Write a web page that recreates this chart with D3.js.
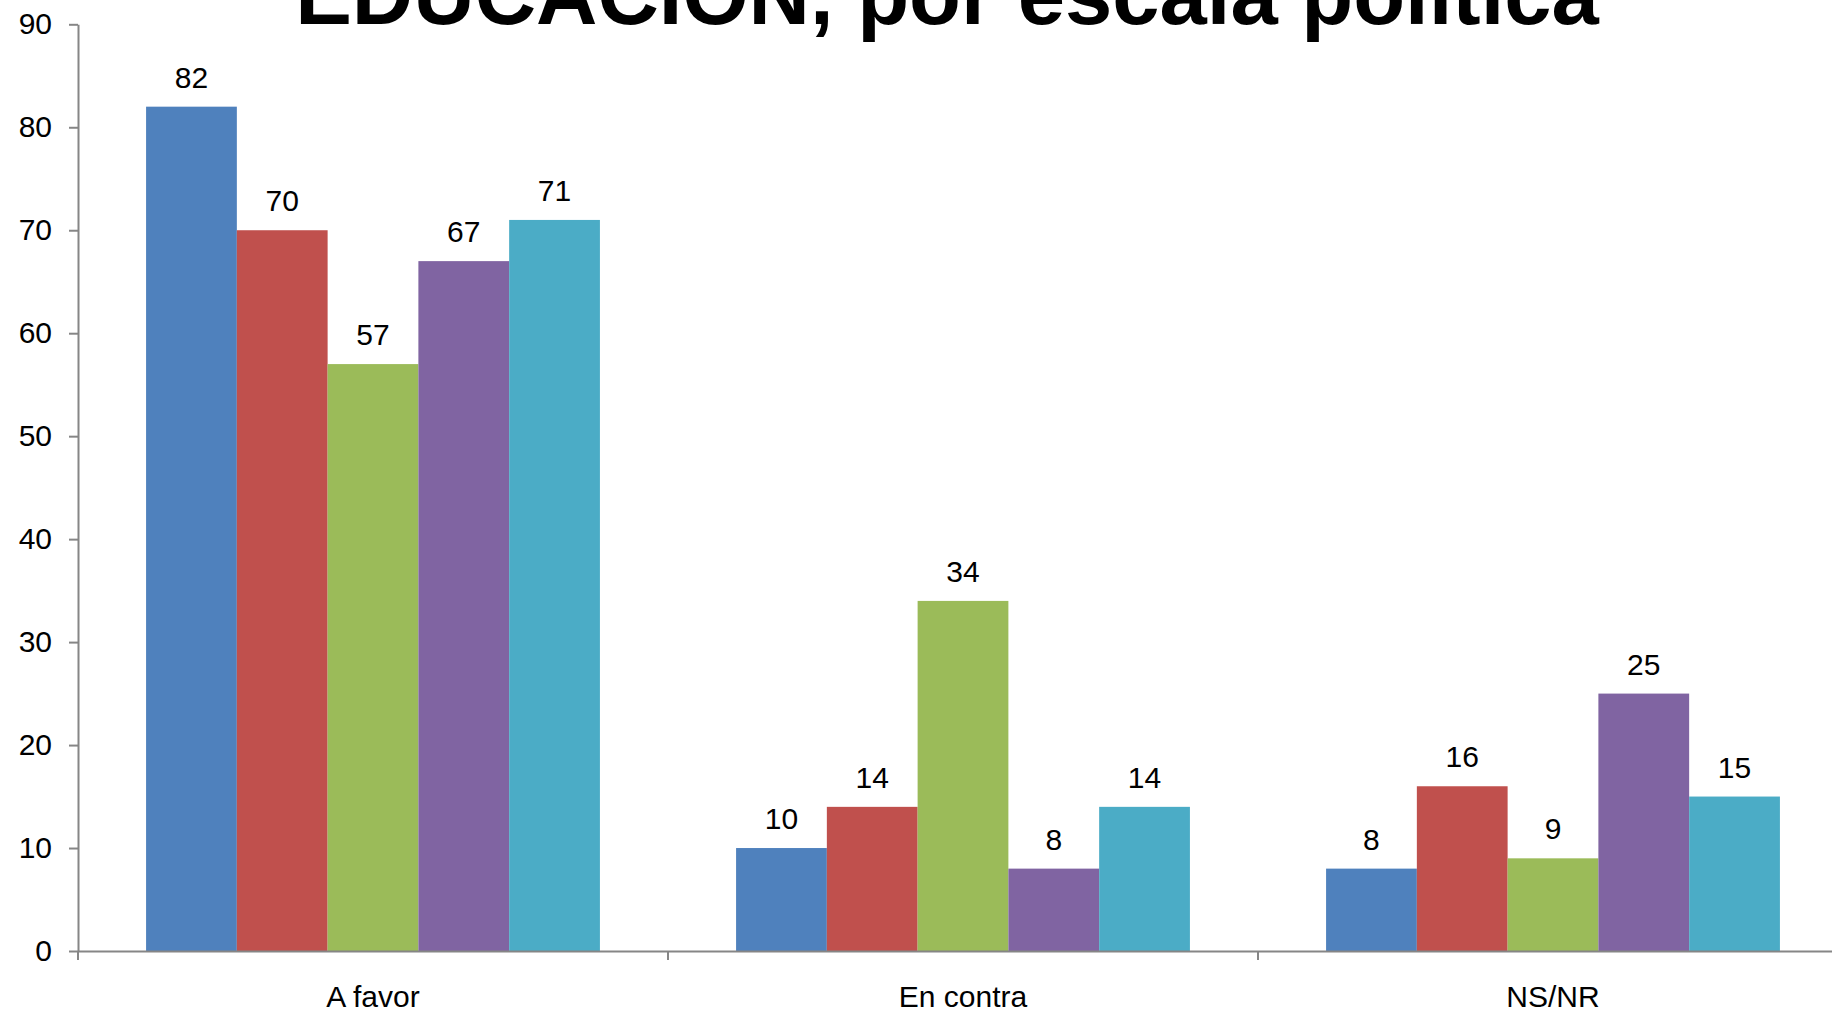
<!DOCTYPE html>
<html>
<head>
<meta charset="utf-8">
<script src="https://cdn.jsdelivr.net/npm/d3@7"></script>
<style>
  html, body { margin: 0; padding: 0; background: #fff; overflow: hidden; }
  svg { display: block; font-family: "Liberation Sans", Arial, sans-serif; }
</style>
</head>
<body>
<svg id="chart" width="1832" height="1013"></svg>
<script>
const titleText = "EDUCACIÓN, por escala política";
const categories = ["A favor", "En contra", "NS/NR"];
const seriesNames = ["Serie 1", "Serie 2", "Serie 3", "Serie 4", "Serie 5"];
const serie1 = [82, 10, 8];
const serie2 = [70, 14, 16];
const serie3 = [57, 34, 9];
const serie4 = [67, 8, 25];
const serie5 = [71, 14, 15];
const seriesValues = [serie1, serie2, serie3, serie4, serie5];
const seriesColors = ["#4F81BD", "#C0504D", "#9BBB59", "#8064A2", "#4BACC6"];
const yTicks = [0, 10, 20, 30, 40, 50, 60, 70, 80, 90];

const svg = d3.select("#chart");
const plotLeft = 78, plotRight = 1848, plotTop = 24.3, plotBottom = 951;

const x0 = d3.scaleBand().domain(categories).range([plotLeft, plotRight]).paddingInner(0).paddingOuter(0);
const barW = x0.bandwidth() / 6.5;
const x1 = d3.scaleBand().domain(seriesNames)
  .range([0.75 * barW, x0.bandwidth() - 0.75 * barW]).padding(0);
const y = d3.scaleLinear().domain([0, 90]).range([plotBottom, plotTop]);

const axisColor = "#868686";
const fontSize = 30;

// bars
const groups = svg.append("g").selectAll("g")
  .data(categories).join("g")
  .attr("transform", d => `translate(${x0(d)},0)`);

groups.selectAll("rect")
  .data((c, ci) => seriesNames.map((s, si) => ({ s, si, v: seriesValues[si][ci] })))
  .join("rect")
  .attr("x", d => x1(d.s))
  .attr("y", d => y(d.v))
  .attr("width", x1.bandwidth())
  .attr("height", d => y(0) - y(d.v))
  .attr("fill", d => seriesColors[d.si]);

groups.selectAll("text")
  .data((c, ci) => seriesNames.map((s, si) => ({ s, si, v: seriesValues[si][ci] })))
  .join("text")
  .attr("x", d => x1(d.s) + x1.bandwidth() / 2)
  .attr("y", d => y(d.v) - 19)
  .attr("text-anchor", "middle")
  .attr("font-size", fontSize)
  .attr("fill", "#000")
  .text(d => d.v);

// y axis
const yAxis = d3.axisLeft(y).tickValues(yTicks).tickSize(9).tickPadding(17).tickSizeOuter(0);
const gy = svg.append("g").attr("transform", `translate(${plotLeft},0)`).call(yAxis);
gy.select(".domain").attr("stroke", axisColor).attr("stroke-width", 2);
gy.selectAll(".tick line").attr("stroke", axisColor).attr("stroke-width", 2);
gy.selectAll(".tick text").attr("font-size", fontSize).attr("fill", "#000")
  .attr("font-family", "'Liberation Sans', Arial, sans-serif");

// x axis
const xAxis = d3.axisBottom(x0).tickSize(0).tickPadding(35).tickSizeOuter(0);
const gx = svg.append("g").attr("transform", `translate(0,${plotBottom})`).call(xAxis);
gx.select(".domain").attr("stroke", axisColor).attr("stroke-width", 2);
gx.selectAll(".tick text").attr("font-size", fontSize).attr("fill", "#000")
  .attr("font-family", "'Liberation Sans', Arial, sans-serif");
// category boundary ticks
gx.selectAll(".boundary").data(categories).join("line")
  .attr("class", "boundary")
  .attr("x1", d => x0(d)).attr("x2", d => x0(d))
  .attr("y1", 0).attr("y2", 9)
  .attr("stroke", axisColor).attr("stroke-width", 2);

// title
svg.append("text")
  .attr("x", 947).attr("y", 24)
  .attr("text-anchor", "middle")
  .attr("font-size", 85).attr("font-weight", "bold")
  .attr("fill", "#000")
  .text(titleText);
</script>
</body>
</html>
